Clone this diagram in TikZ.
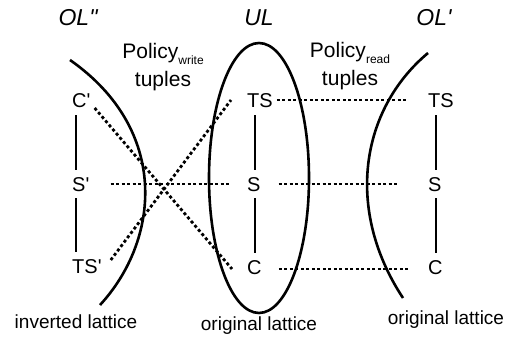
\documentclass[tikz,border=0pt]{standalone}
\usepackage{fontspec}
\setmainfont{Liberation Sans}
\usepackage{tikz}

\newcommand\polsub[1]{\raisebox{-6pt}{\fontsize{12}{12}\selectfont #1}}

\begin{document}
\begin{tikzpicture}[x=1pt,y=-1pt,
  lat/.style={anchor=west,inner sep=0pt,text height=14pt,text depth=0pt,font=\fontsize{20}{24}\selectfont},
  rank/.style={line width=2.5pt,shorten <=7pt,shorten >=7pt},
  pol/.style={line width=2.8pt,dash pattern=on 3pt off 2.5pt},
  arc/.style={line width=2.6pt},
  ttl/.style={font=\fontsize{23}{26}\selectfont\itshape},
  latcap/.style={font=\fontsize{19}{22}\selectfont},
  tup/.style={align=center,inner sep=0pt,font=\fontsize{21}{28}\selectfont}]
\useasboundingbox (0,0) rectangle (516,339);
% the three lattices
\draw[arc] (70,60) .. controls (170,130) and (160,240) .. (100,305);
\draw[arc] (259,178) ellipse [x radius=50, y radius=135];
\draw[arc] (428,53) .. controls (360,110) and (345,210) .. (403,298);
% titles
\node[ttl] (olpp) at (78,18) {OL\textquotedbl};
\node[ttl] (ul) at (259,18) {UL};
\node[ttl] (olp) at (434,18) {OL\textquotesingle};
\node[tup] (pw) at (163,67) {Policy\polsub{write}\\tuples};
\node[tup] (pr) at (350,66) {Policy\polsub{read}\\tuples};
% inverted lattice
\node[lat] (c1) at (72,101) {C\textquotesingle};
\node[lat] (s1) at (72,184) {S\textquotesingle};
\node[lat] (t1) at (72,266) {TS\textquotesingle};
% original lattice
\node[lat] (t2) at (247,101) {TS};
\node[lat] (s2) at (247,184) {S};
\node[lat] (c2) at (247,267) {C};
% copy of original lattice
\node[lat] (t3) at (428,101) {TS};
\node[lat] (s3) at (428,184) {S};
\node[lat] (c3) at (428,267) {C};
\draw[rank] ([xshift=4pt]c1.south west) -- ([xshift=4pt]s1.north west);
\draw[rank] ([xshift=4pt]s1.south west) -- ([xshift=4pt]t1.north west);
\draw[rank] ([xshift=8pt]t2.south west) -- ([xshift=8pt]s2.north west);
\draw[rank] ([xshift=8pt]s2.south west) -- ([xshift=8pt]c2.north west);
\draw[rank] ([xshift=8pt]t3.south west) -- ([xshift=8pt]s3.north west);
\draw[rank] ([xshift=8pt]s3.south west) -- ([xshift=8pt]c3.north west);
% tuples
\draw[pol] ([shift={(4,7)}]c1.east) -- ([shift={(-15,2)}]c2.west);
\draw[pol] ([shift={(9,-6)}]t1.east) -- ([shift={(-16,-1)}]t2.west);
\draw[pol,shorten <=21pt,shorten >=18pt] (s1.east) -- (s2.west);
\draw[pol,shorten <=4pt,shorten >=20pt] ([yshift=1pt]t2.east) -- ([yshift=1pt]t3.west);
\draw[pol,shorten <=18pt,shorten >=31pt] (s2.east) -- (s3.west);
\draw[pol,shorten <=17pt,shorten >=19pt] ([yshift=-2pt]c2.east) -- ([yshift=-2pt]c3.west);
% captions
\node[latcap] (inv) at (76,322) {inverted lattice};
\node[latcap] (orig) at (259,326) {original lattice};
\node[latcap] (copy) at (446,320) {original lattice};
\end{tikzpicture}
\end{document}
